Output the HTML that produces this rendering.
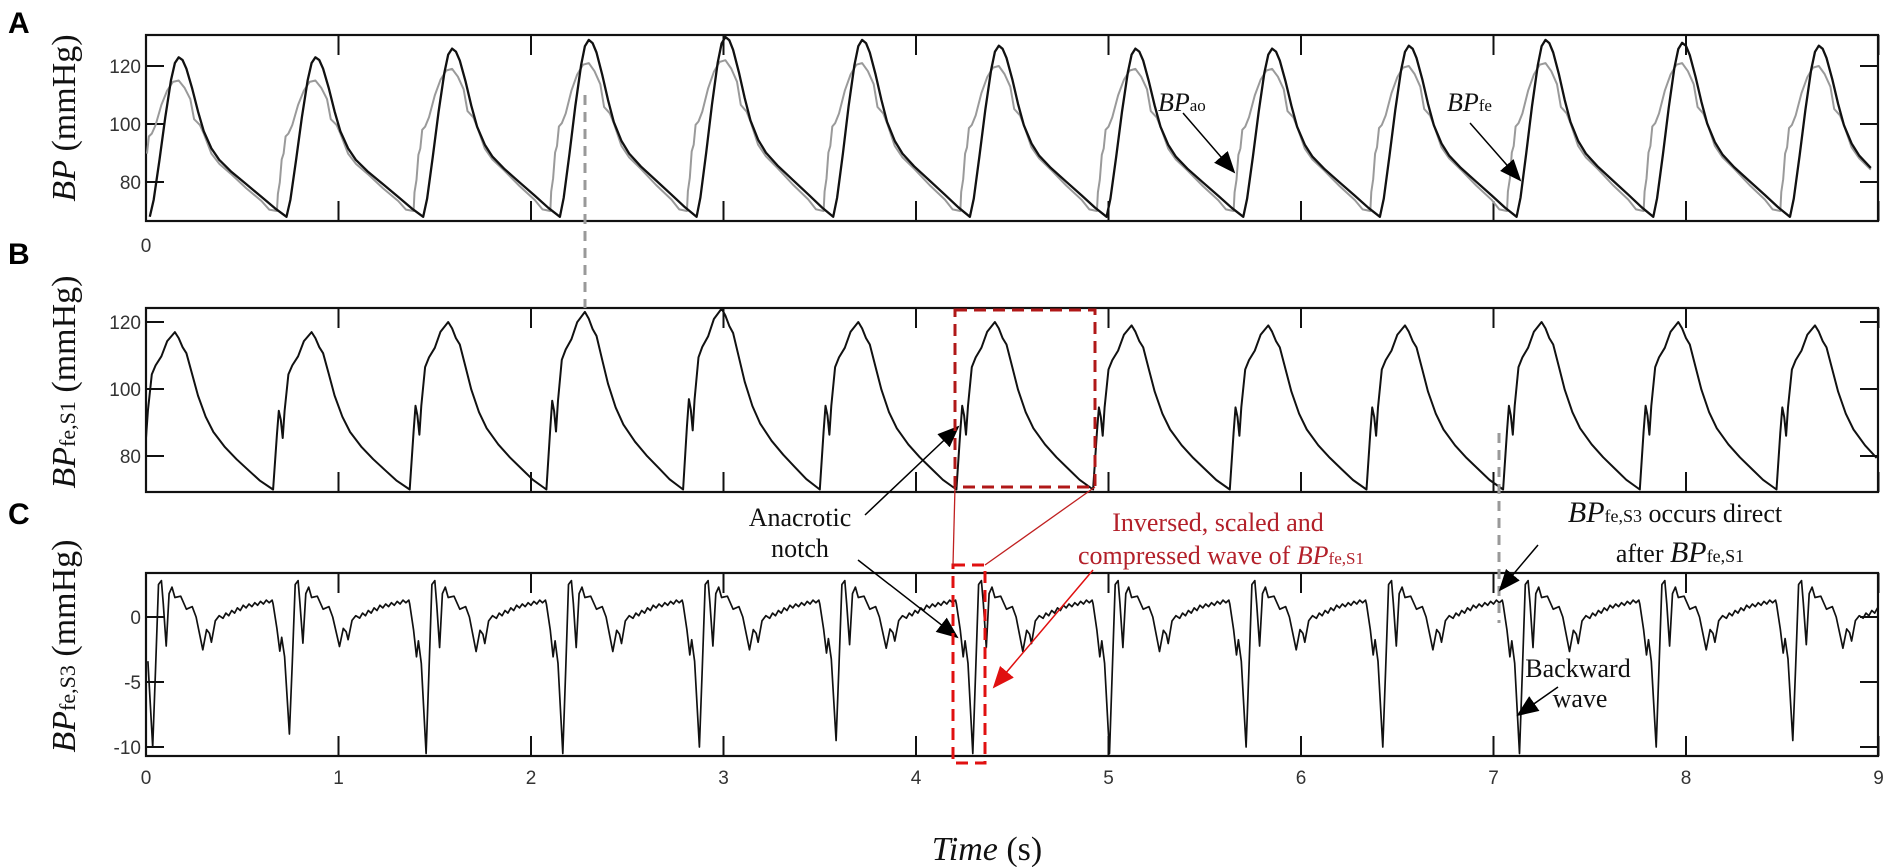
<!DOCTYPE html>
<html><head><meta charset="utf-8"><style>
html,body{margin:0;padding:0;background:#fff;}
svg{display:block;}
.tk{font-family:"Liberation Sans",sans-serif;font-size:19px;fill:#333;}
.lab{font-family:"Liberation Serif",serif;font-size:34px;fill:#111;}
.ann{font-family:"Liberation Serif",serif;font-size:26px;fill:#111;}
.red{font-family:"Liberation Serif",serif;font-size:26px;fill:#b3202a;}
.pl{font-family:"Liberation Sans",sans-serif;font-size:30px;font-weight:bold;fill:#000;}
</style></head><body>
<svg id="chart" width="1893" height="867" viewBox="0 0 1893 867" xmlns="http://www.w3.org/2000/svg">
<defs>
<marker id="ab" markerWidth="22" markerHeight="18" refX="20" refY="9" orient="auto" markerUnits="userSpaceOnUse"><path d="M0,0 L22,9 L0,18 z" fill="#000"/></marker>
<marker id="ar" markerWidth="22" markerHeight="18" refX="20" refY="9" orient="auto" markerUnits="userSpaceOnUse"><path d="M0,0 L22,9 L0,18 z" fill="#e01010"/></marker>
</defs>
<g id="static">
<text class="pl" x="8" y="33">A</text>
<text class="pl" x="8" y="264">B</text>
<text class="pl" x="8" y="524">C</text>
<text class="lab" transform="translate(75,118) rotate(-90)" text-anchor="middle"><tspan font-style="italic">BP</tspan> (mmHg)</text>
<text class="lab" transform="translate(75,382) rotate(-90)" text-anchor="middle"><tspan font-style="italic">BP</tspan><tspan font-size="22">fe,S1</tspan> (mmHg)</text>
<text class="lab" transform="translate(75,646) rotate(-90)" text-anchor="middle"><tspan font-style="italic">BP</tspan><tspan font-size="22">fe,S3</tspan> (mmHg)</text>
<text class="lab" x="987" y="860" text-anchor="middle"><tspan font-style="italic">Time</tspan> (s)</text>
<text class="tk" x="146" y="252" text-anchor="middle">0</text>
</g>
<g id="plots"></g>
<g id="annot">
<line x1="585" y1="95" x2="585" y2="308" stroke="#999" stroke-width="3" stroke-dasharray="10,7"/>
<line x1="1499" y1="433" x2="1499" y2="623" stroke="#999" stroke-width="3" stroke-dasharray="10,7"/>
<text class="ann" x="1158" y="111"><tspan font-style="italic">BP</tspan><tspan font-size="17">ao</tspan></text>
<line x1="1183" y1="113" x2="1234" y2="172" stroke="#000" stroke-width="1.5" marker-end="url(#ab)"/>
<text class="ann" x="1447" y="111"><tspan font-style="italic">BP</tspan><tspan font-size="17">fe</tspan></text>
<line x1="1470" y1="123" x2="1520" y2="180" stroke="#000" stroke-width="1.5" marker-end="url(#ab)"/>
<text class="ann" x="800" y="526" text-anchor="middle">Anacrotic</text>
<text class="ann" x="800" y="557" text-anchor="middle">notch</text>
<line x1="865" y1="515" x2="958" y2="427" stroke="#000" stroke-width="1.5" marker-end="url(#ab)"/>
<line x1="858" y1="560" x2="957" y2="637" stroke="#000" stroke-width="1.5" marker-end="url(#ab)"/>
<rect x="955" y="310" width="140" height="177" fill="none" stroke="#b01818" stroke-width="3" stroke-dasharray="12,7"/>
<rect x="953" y="565" width="32" height="198" fill="none" stroke="#e01010" stroke-width="3" stroke-dasharray="12,7"/>
<line x1="955" y1="487" x2="953" y2="565" stroke="#c02020" stroke-width="1.3"/>
<line x1="1095" y1="487" x2="985" y2="565" stroke="#c02020" stroke-width="1.3"/>
<text class="red" x="1218" y="531" text-anchor="middle">Inversed, scaled and</text>
<text class="red" x="1221" y="564" text-anchor="middle">compressed  wave of <tspan font-style="italic">BP</tspan><tspan font-size="17">fe,S1</tspan></text>
<line x1="1093" y1="570" x2="994" y2="687" stroke="#e01010" stroke-width="1.5" marker-end="url(#ar)"/>
<text class="ann" x="1675" y="522" text-anchor="middle"><tspan font-style="italic" font-size="30">BP</tspan><tspan font-size="18">fe,S3</tspan> occurs direct</text>
<text class="ann" x="1680" y="562" text-anchor="middle">after <tspan font-style="italic" font-size="30">BP</tspan><tspan font-size="18">fe,S1</tspan></text>
<line x1="1538" y1="545" x2="1500" y2="590" stroke="#000" stroke-width="1.5" marker-end="url(#ab)"/>
<text class="ann" x="1578" y="677" text-anchor="middle">Backward</text>
<text class="ann" x="1580" y="707" text-anchor="middle">wave</text>
<line x1="1558" y1="687" x2="1518" y2="715" stroke="#000" stroke-width="1.5" marker-end="url(#ab)"/>
</g>
</svg>
<script>
// ---- data ----
const xTicks = [0,1,2,3,4,5,6,7,8,9];
const aTicks = [80,100,120];
const bTicks = [80,100,120];
const cTicks = [0,-5,-10];
// per-beat foot times of BPfe,S1 (s)
const beatOnsets = [-0.05,0.66,1.37,2.08,2.79,3.50,4.21,4.92,5.63,6.34,7.05,7.76,8.47];
const aBlackPeaks = [123,123,126,129,130,129,127,126,126,127,129,128,127];
const aGreyPeaks = [115,115,119,121,122,121,120,119,119,120,121,121,120];
const bPeaks = [117,117,120,123,124,120,120,119,119,119,120,120,119];
const cMins = [-10,-9,-10.5,-10.5,-10,-9.5,-10.5,-10.5,-10,-10,-10.5,-10,-9.5];
// one-beat templates: [dt, value]
const aBlackShape = [[0.07,68],[0.09,74],[0.12,88],[0.15,103],[0.18,116],[0.2,122],[0.22,124],[0.24,123],[0.26,120],[0.29,113],[0.32,105],[0.35,98],[0.39,92],[0.43,88],[0.49,84],[0.57,79.5],[0.65,75],[0.72,71],[0.78,68]];
const aGreyShape = [[0.02,70],[0.025,76],[0.035,80],[0.045,88],[0.055,90],[0.065,96],[0.08,97],[0.1,100],[0.13,107],[0.16,112],[0.19,115],[0.22,115.5],[0.25,113],[0.28,109],[0.3,102],[0.315,101],[0.33,100],[0.35,97],[0.39,90],[0.43,86.5],[0.49,83],[0.57,78],[0.65,73.5],[0.69,70.5],[0.73,70]];
const bShape = [[0,70],[0.02,88],[0.03,96],[0.04,93],[0.05,87],[0.06,96],[0.08,108],[0.1,111],[0.13,114],[0.16,119],[0.2,122],[0.22,120],[0.24,117],[0.26,115],[0.29,108],[0.32,101],[0.36,94],[0.4,89],[0.46,84],[0.52,80],[0.58,76.5],[0.64,73],[0.71,70]];
const cShape = [[0,1.0],[0.02,-1],[0.035,-3],[0.045,-1.8],[0.06,-3.5],[0.085,-10.3],[0.1,-4],[0.115,2.5],[0.13,2.8],[0.14,1],[0.155,-2.3],[0.17,1.8],[0.185,2.3],[0.2,1.5],[0.23,1.6],[0.26,0.6],[0.29,0.8],[0.31,0],[0.345,-2.6],[0.365,-1],[0.38,-1.3],[0.39,-2],[0.41,-0.3],[0.43,0.1],[0.45,-0.1],[0.465,0.3],[0.48,0.1],[0.495,0.5],[0.51,0.3],[0.525,0.7],[0.54,0.5],[0.555,0.9],[0.57,0.7],[0.585,1.0],[0.6,0.8],[0.615,1.1],[0.63,0.9],[0.645,1.2],[0.66,1.0],[0.675,1.3],[0.69,1.1],[0.705,1.3]];

// ---- axes ----
const X0=146, PX=192.5, XR=1878;
const xs = t => X0 + t*PX;
const panels = [
 {key:'a', top:35, bot:221, y:v=>66+(120-v)*2.9, ticks:aTicks, xlabels:false},
 {key:'b', top:308, bot:492, y:v=>322+(120-v)*3.35, ticks:bTicks, xlabels:false},
 {key:'c', top:573, bot:756, y:v=>617-v*13, ticks:cTicks, xlabels:true}
];
const NS='http://www.w3.org/2000/svg';
const root=document.getElementById('plots');
function mk(tag,attrs,parent){const e=document.createElementNS(NS,tag);for(const k in attrs)e.setAttribute(k,attrs[k]);(parent||root).appendChild(e);return e;}

function series(shape, onsets, scaleFn){
  const pts=[];
  onsets.forEach((T,i)=>{shape.forEach(([dt,v])=>{const t=T+dt;if(t>=0&&t<=9)pts.push([t,scaleFn(v,i)]);});});
  pts.sort((a,b)=>a[0]-b[0]);
  return pts;
}
function drawLine(p,pts,color,w,name){
  const d=pts.map((q,i)=>(i?'L':'M')+xs(q[0]).toFixed(1)+','+Math.max(p.top,Math.min(p.bot,p.y(q[1]))).toFixed(1)).join(' ');
  const e=mk('path',{d:d,fill:'none',stroke:color,'stroke-width':w,'stroke-linejoin':'round'});
  
  
}

panels.forEach(p=>{
  const g=mk('g',{});
  
  
  const box=mk('rect',{x:X0,y:p.top,width:XR-X0,height:p.bot-p.top,fill:'none',stroke:'#111','stroke-width':2.2},g);
  
  
  xTicks.forEach(t=>{
    const x=xs(t);
    const a=mk('line',{x1:x,y1:p.bot,x2:x,y2:p.bot-20,stroke:'#111','stroke-width':2},g);
    
    
    const b=mk('line',{x1:x,y1:p.top,x2:x,y2:p.top+20,stroke:'#111','stroke-width':2},g);
    
    
    if(p.xlabels){
      const l=mk('text',{x:x,y:p.bot+28,'text-anchor':'middle',class:'tk'},g);
      l.textContent=t;
      
      
    }
  });
  p.ticks.forEach(v=>{
    const y=p.y(v);
    const a=mk('line',{x1:X0,y1:y,x2:X0+18,y2:y,stroke:'#111','stroke-width':2},g);
    
    
    const b=mk('line',{x1:XR,y1:y,x2:XR-18,y2:y,stroke:'#111','stroke-width':2},g);
    
    
    const l=mk('text',{x:X0-5,y:y+7,'text-anchor':'end',class:'tk'},g);
    l.textContent=v;
    
    
  });
});

const [pA,pB,pC]=panels;
drawLine(pA, series(aGreyShape, beatOnsets, (v,i)=>70+(v-70)*(aGreyPeaks[i]-70)/45.5), '#9a9a9a', 2, 'bp-ao-line');
drawLine(pA, series(aBlackShape, beatOnsets, (v,i)=>68+(v-68)*(aBlackPeaks[i]-68)/56), '#111', 2.3, 'bp-fe-line');
drawLine(pB, series(bShape, beatOnsets, (v,i)=>70+(v-70)*(bPeaks[i]-70)/52), '#111', 2, 'bp-fe-s1-line');
drawLine(pC, series(cShape, beatOnsets, (v,i)=> v<0 ? v*cMins[i]/-10.3 : v), '#111', 1.7, 'bp-fe-s3-line');
</script>
</body></html>
